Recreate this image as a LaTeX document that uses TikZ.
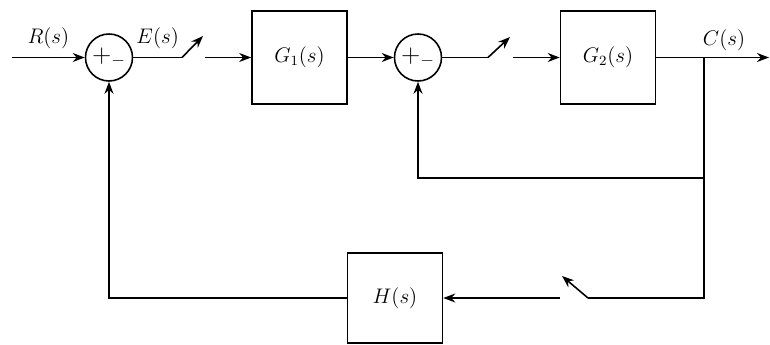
\documentclass[tikz,border=0pt]{standalone}
\usetikzlibrary{arrows.meta}

\begin{document}
\begin{tikzpicture}[font=\large, line width=0.9pt, >={Stealth[length=2.4mm,width=1.8mm]},
  sum/.style={circle, draw, minimum size=0.94cm, inner sep=0pt, font=\Large},
  blk/.style={draw, minimum width=1.9cm, minimum height=1.86cm}]
  \useasboundingbox (0,0) rectangle (15.4,-6.9);
  % forward path
  \coordinate (in) at (0.24,-1.15);
  \node[sum] (sum1) at (2.18,-1.15) {$+_{-}$};
  \node[blk] (g1) at (5.99,-1.15) {$G_1(s)$};
  \node[sum] (sum2) at (8.36,-1.15) {$+_{-}$};
  \node[blk] (g2) at (12.16,-1.15) {$G_2(s)$};
  \node[blk, minimum height=1.8cm] (h) at (7.9,-5.96) {$H(s)$};
  \coordinate (out) at (15.38,-1.15);
  \coordinate (br) at (14.08,-1.15);
  % switches
  \coordinate (sw1) at (3.64,-1.15);
  \coordinate (sw1e) at (4.06,-0.72);
  \coordinate (sw1o) at (4.1,-1.15);
  \coordinate (sw2) at (9.76,-1.15);
  \coordinate (sw2e) at (10.2,-0.74);
  \coordinate (sw2o) at (10.26,-1.15);
  \coordinate (sw3) at (11.76,-5.96);
  \coordinate (sw3e) at (11.24,-5.52);
  \coordinate (sw3o) at (11.2,-5.96);
  \draw[->] (in) -- node[above, yshift=1pt] (r) {$R(s)$} (sum1);
  \draw (sum1) -- node[above, yshift=1pt] (e) {$E(s)$} (sw1);
  \draw[->] (sw1) -- (sw1e);
  \draw[->] (sw1o) -- (g1);
  \draw[->] (g1) -- (sum2);
  \draw (sum2) -- (sw2);
  \draw[->] (sw2) -- (sw2e);
  \draw[->] (sw2o) -- (g2);
  \draw[->] (g2) -- (out);
  \node[above] (c) at (14.48,-1.15) {$C(s)$};
  % feedback paths
  \draw[->] (br) |- (8.36,-3.56) -- (sum2);
  \draw (br) |- (sw3);
  \draw[->] (sw3) -- (sw3e);
  \draw[->] (sw3o) -- (h);
  \draw[->] (h) -| (sum1);
\end{tikzpicture}
\end{document}
